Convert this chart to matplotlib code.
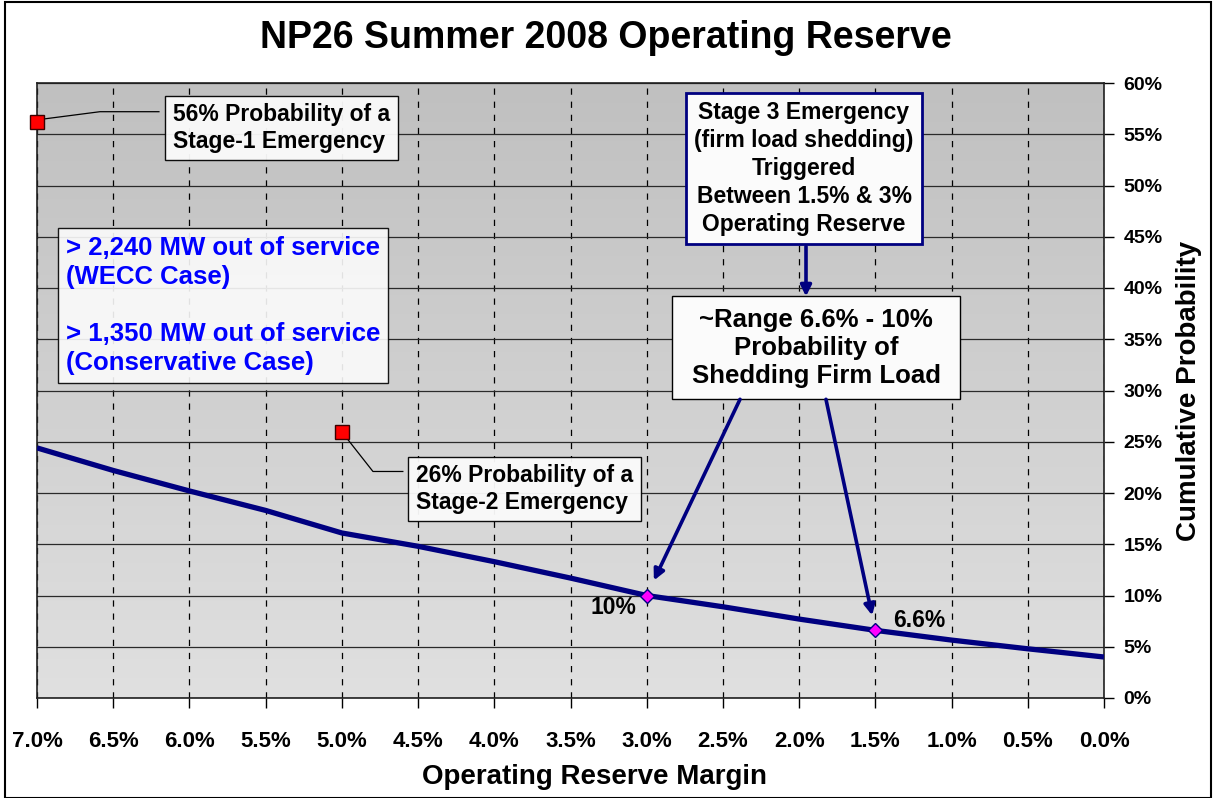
import matplotlib
matplotlib.use('Agg')
import matplotlib.pyplot as plt
import numpy as np
from matplotlib.patches import Rectangle
from matplotlib.colors import LinearSegmentedColormap
from matplotlib.ticker import FuncFormatter

plt.rcParams['font.family'] = ['Liberation Sans', 'DejaVu Sans']
plt.rcParams['font.weight'] = 'bold'
plt.rcParams['axes.labelweight'] = 'bold'

# ---- data ----
reserve_margin = [7.0, 6.5, 6.0, 5.5, 5.0, 4.5, 4.0, 3.5, 3.0, 2.5, 2.0, 1.5, 1.0, 0.5, 0.0]
cum_prob = [24.4, 22.2, 20.2, 18.3, 16.1, 14.8, 13.3, 11.7, 10.0, 8.9, 7.7, 6.6, 5.65, 4.8, 4.0]
stage_x = [7.0, 5.0]
stage_y = [56.2, 26.0]
highlight_x = [3.0, 1.5]
highlight_y = [10.0, 6.6]
highlight_labels = ['10%', '6.6%']
x_ticks = [7.0, 6.5, 6.0, 5.5, 5.0, 4.5, 4.0, 3.5, 3.0, 2.5, 2.0, 1.5, 1.0, 0.5, 0.0]
y_ticks = [0, 5, 10, 15, 20, 25, 30, 35, 40, 45, 50, 55, 60]

NAVY = '#000080'
W, H = 1214, 798

fig = plt.figure(figsize=(W / 100, H / 100), dpi=100)
ax = fig.add_axes([37 / W, 1 - 698 / H, (1104 - 37) / W, (698 - 83) / H])

# gradient background
cmap = LinearSegmentedColormap.from_list('bg', ['#c0c0c0', '#e0e0e0'])
ax.imshow(np.linspace(0, 1, 256).reshape(-1, 1), cmap=cmap, extent=[0, 1, 0, 1],
          transform=ax.transAxes, aspect='auto', zorder=0)

ax.set_xlim(7, 0)
ax.set_ylim(0, 60)
ax.set_xticks(x_ticks)
ax.set_yticks(y_ticks)
ax.xaxis.set_major_formatter(FuncFormatter(lambda v, p: f'{v:.1f}%'))
ax.yaxis.set_major_formatter(FuncFormatter(lambda v, p: f'{v:.0f}%'))
ax.yaxis.tick_right()
ax.yaxis.set_label_position('right')
ax.tick_params(axis='x', direction='out', length=7, width=1, pad=17, labelsize=16)
ax.tick_params(axis='y', direction='out', length=7, width=1, pad=7, labelsize=14)
ax.xaxis.grid(True, linestyle=(0, (5, 5.5)), color='black', lw=0.9)
ax.yaxis.grid(True, linestyle='-', color='#2a2a2a', lw=0.9)
for s in ax.spines.values():
    s.set_color('#202020')
    s.set_linewidth(1.2)

ax.set_ylabel('Cumulative Probability', fontsize=20, labelpad=10, fontweight='bold')

# main curve
ax.plot(reserve_margin, cum_prob, color=NAVY, lw=3.8, zorder=4, solid_capstyle='butt')

# stage markers
ax.plot(stage_x, stage_y, 's', ms=10.5, mfc='#ff0000', mec='#3a0000', mew=1,
        clip_on=False, zorder=8)
ax.plot(highlight_x, highlight_y, 'D', ms=7, mfc='#ff00ff', mec=NAVY, mew=1, zorder=8)

# connectors for stage boxes
ax.plot([6.95, 6.587, 6.20], [56.5, 57.2, 57.2], color='black', lw=0.9, zorder=6)
ax.plot([4.96, 4.796, 4.60], [25.2, 22.1, 22.1], color='black', lw=0.9, zorder=6)

box_kw = dict(boxstyle='square,pad=0.33', fc='#fbfbfb', ec='black', lw=1, alpha=0.95)

ax.text(6.108, 55.6, '56% Probability of a\nStage-1 Emergency', fontsize=16.5,
        ha='left', va='center', bbox=box_kw, zorder=7, linespacing=1.2)
ax.text(4.514, 20.4, '26% Probability of a\nStage-2 Emergency', fontsize=16.5,
        ha='left', va='center', bbox=box_kw, zorder=7, linespacing=1.2)
ax.text(6.81, 38.3,
        '> 2,240 MW out of service\n(WECC Case)\n\n> 1,350 MW out of service\n(Conservative Case)',
        fontsize=18.5, color='#0000ff', ha='left', va='center', linespacing=1.25,
        bbox=dict(boxstyle='square,pad=0.3', fc='#fbfbfb', ec='black', lw=1, alpha=0.9),
        zorder=7)
ax.text(1.968, 51.66,
        'Stage 3 Emergency\n(firm load shedding)\nTriggered\nBetween 1.5% & 3%\nOperating Reserve',
        fontsize=16.5, ha='center', va='center', multialignment='center', linespacing=1.28,
        bbox=dict(boxstyle='square,pad=0.35', fc='#fbfbfb', ec=NAVY, lw=2), zorder=7)

# range box
ax.add_patch(Rectangle((0.945, 29.14), 2.834 - 0.945, 39.18 - 29.14, fc='#fbfbfb',
                       ec='black', lw=1, zorder=7))
ax.text(1.889, 34.16, '~Range 6.6% - 10%\nProbability of\nShedding Firm Load',
        fontsize=18.5, ha='center', va='center', multialignment='center',
        linespacing=1.22, zorder=8)

arrow_kw = dict(arrowstyle='-|>', color=NAVY, lw=2.6, mutation_scale=16,
                shrinkA=0)
ax.annotate('', xy=(1.955, 39.18), xytext=(1.955, 44.05),
            arrowprops=dict(arrow_kw, shrinkB=0), zorder=9)
ax.annotate('', xy=(highlight_x[0], highlight_y[0]), xytext=(2.388, 29.14),
            arrowprops=dict(arrow_kw, shrinkB=12), zorder=9)
ax.annotate('', xy=(highlight_x[1], highlight_y[1]), xytext=(1.824, 29.14),
            arrowprops=dict(arrow_kw, shrinkB=11), zorder=9)

ax.text(highlight_x[0] + 0.07, highlight_y[0] - 1.13, highlight_labels[0], fontsize=16.5,
        ha='right', va='center', zorder=9)
ax.text(highlight_x[1] - 0.116, highlight_y[1] + 1.0, highlight_labels[1], fontsize=16.5,
        ha='left', va='center', zorder=9)

# title and x label
fig.text(606 / W, 1 - 38 / H, 'NP26 Summer 2008 Operating Reserve', fontsize=27,
         ha='center', va='center', weight='bold')
fig.text(595 / W, 1 - 777 / H, 'Operating Reserve Margin', fontsize=20,
         ha='center', va='center', weight='bold')

# figure border
fig.patches.append(Rectangle((5 / W, 0), (1211 - 5) / W, 1 - 2 / H,
                             transform=fig.transFigure, fill=False, ec='black', lw=1.5))

fig.savefig('out.png', dpi=100)
